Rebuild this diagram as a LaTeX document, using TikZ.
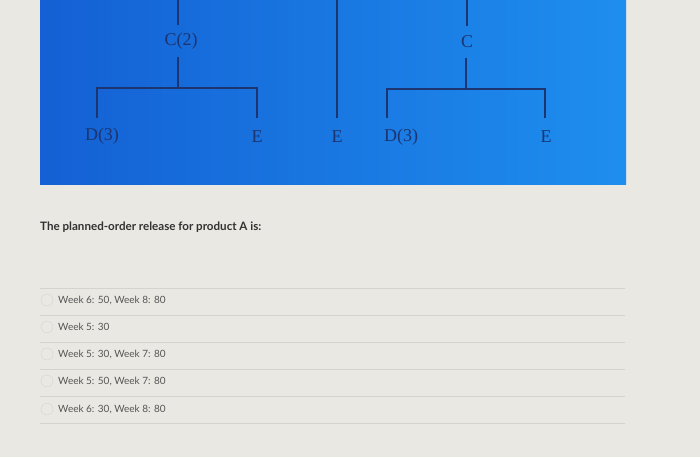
\documentclass[tikz,border=0pt]{standalone}
\usepackage{fontspec}
\newfontfamily\latofont{Lato}
\newfontfamily\treefont{Liberation Serif}
\begin{document}
\begin{tikzpicture}[x=1pt,y=-1pt,
  treeline/.style={draw=navy, line width=1.4pt},
  lbl/.style={text=navy, inner sep=0pt, font=\treefont\fontsize{18}{20}\selectfont},
  lblv/.style={lbl, minimum height=32pt},
  optline/.style={draw=sepgray, line width=0.8pt},
  opttext/.style={anchor=west, text=optgray, inner sep=0pt, font=\latofont\fontsize{10}{12}\selectfont},
  radio/.style={circle, draw=radiogray, fill=bgpaper, minimum size=12pt, inner sep=0pt}
]
\definecolor{navy}{RGB}{28,52,112}
\definecolor{bgpaper}{RGB}{233,232,227}
\definecolor{sepgray}{RGB}{212,212,207}
\definecolor{optgray}{RGB}{85,85,85}
\definecolor{qgray}{RGB}{50,50,50}
\definecolor{radiogray}{RGB}{212,212,207}
\definecolor{blueL}{RGB}{20,96,212}
\definecolor{blueR}{RGB}{30,142,238}
% background
\fill[bgpaper] (0,0) rectangle (700,457);
\fill[left color=blueL, right color=blueR] (40,0) rectangle (626,184);
\useasboundingbox (0,0) rectangle (700,457);
% left tree
\coordinate (t1) at (178,0);
\node[lblv] (c2) at (181,41) {C(2)};
\coordinate (j1) at (178,88);
\coordinate (l1a) at (97,88);
\coordinate (l1b) at (97,118);
\coordinate (r1a) at (257,88);
\coordinate (r1b) at (257,118);
\draw[treeline] (t1) -- (c2.north -| t1);
\draw[treeline] (c2.south -| t1) -- (j1);
\draw[treeline] (l1b) -- (l1a) -- (r1a) -- (r1b);
\node[lbl] (d3a) at (102,136) {D(3)};
\node[lbl] (e1) at (257,137) {E};
% middle line
\coordinate (t2) at (337,0);
\coordinate (m2) at (337,118);
\draw[treeline] (t2) -- (m2);
\node[lbl] (e2) at (337,137) {E};
% right tree
\coordinate (t3) at (467,0);
\node[lblv] (c) at (467,42) {C};
\coordinate (j3) at (466,89);
\coordinate (l3a) at (387,89);
\coordinate (l3b) at (387,118);
\coordinate (r3a) at (545,89);
\coordinate (r3b) at (545,118);
\draw[treeline] (t3) -- (c.north -| t3);
\draw[treeline] (c.south -| j3) -- (j3);
\draw[treeline] (l3b) -- (l3a) -- (r3a) -- (r3b);
\node[lbl] (d3b) at (401,137) {D(3)};
\node[lbl] (e3) at (546,137) {E};
% question
\node[anchor=west, text=qgray, inner sep=0pt, font=\latofont\bfseries\fontsize{11.6}{13}\selectfont] (q) at (40,227) {The planned-order release for product A is:};
% options
\foreach \yy in {288,315,342,369,396,423} {\draw[optline] (40,\yy) -- (625,\yy);}
\node[radio] (r1) at (47,300) {};
\node[radio] (r2) at (47,327) {};
\node[radio] (r3) at (47,354) {};
\node[radio] (r4) at (47,381) {};
\node[radio] (r5) at (47,409) {};
\node[opttext] (o1) at (58,300) {Week 6: 50, Week 8: 80};
\node[opttext] (o2) at (58,327) {Week 5: 30};
\node[opttext] (o3) at (58,354) {Week 5: 30, Week 7: 80};
\node[opttext] (o4) at (58,381) {Week 5: 50, Week 7: 80};
\node[opttext] (o5) at (58,409) {Week 6: 30, Week 8: 80};
\end{tikzpicture}
\end{document}
